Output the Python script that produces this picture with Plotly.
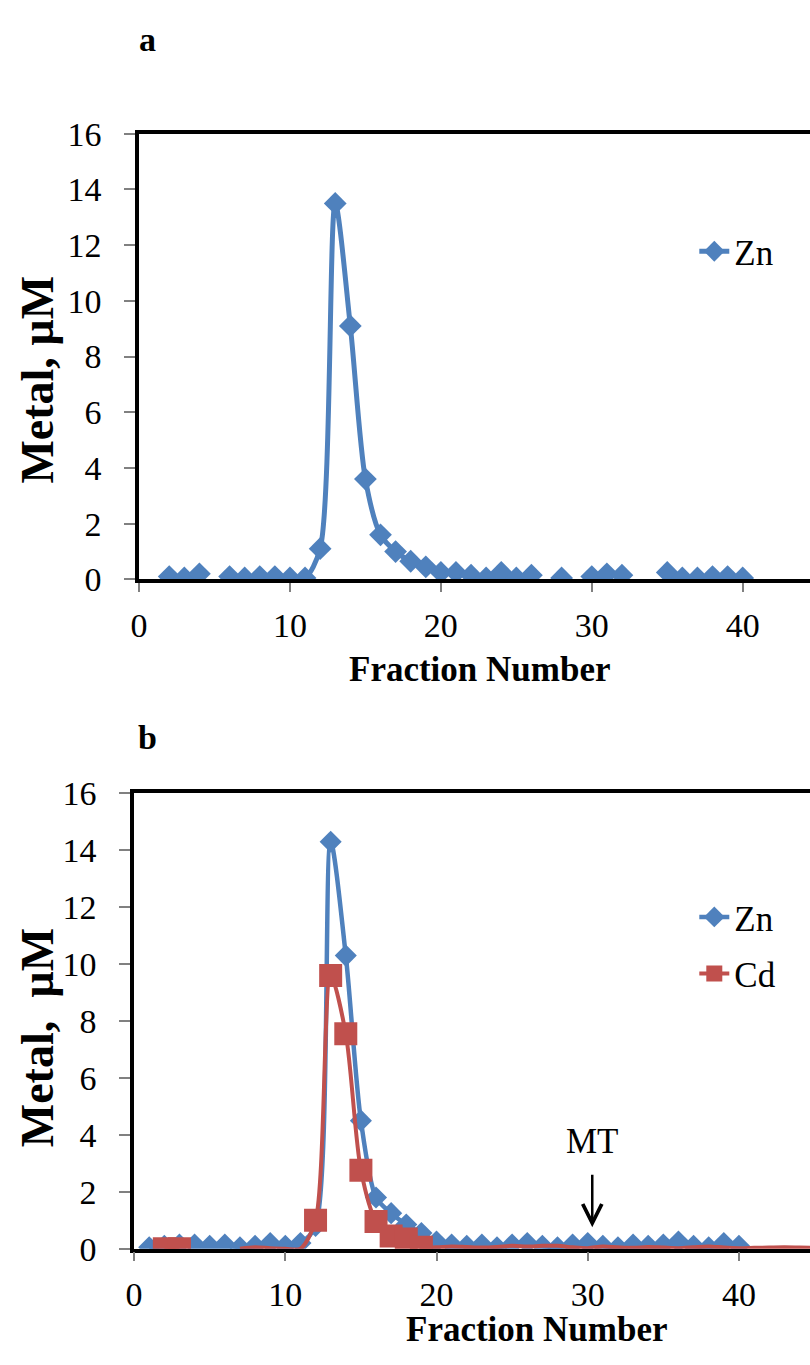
import plotly.graph_objects as go

# ---------------- data ----------------
fractions_a = list(range(1, 41))
zn_a = [None, 0.1, 0.05, 0.2, None, 0.1, 0.05, 0.1, 0.1, 0.05,
        0.05, 1.1, 13.5, 9.1, 3.6, 1.6, 1.0, 0.65, 0.45, 0.25,
        0.25, 0.15, 0.05, 0.25, 0.05, 0.15, None, 0.05, None, 0.1,
        0.2, 0.15, None, None, 0.25, 0.05, 0.05, 0.1, 0.1, 0.05]

fractions_b_zn = list(range(1, 41))
zn_b = [0.05, 0.1, 0.15, 0.15, 0.1, 0.15, 0.05, 0.1, 0.2, 0.1,
        0.2, 0.8, 14.3, 10.3, 4.5, 1.8, 1.25, 0.85, 0.55, 0.25,
        0.15, 0.1, 0.15, 0.05, 0.15, 0.2, 0.1, 0.05, 0.15, 0.2,
        0.1, 0.05, 0.15, 0.1, 0.15, 0.25, 0.1, 0.05, 0.2, 0.1]

fractions_b_cd = list(range(1, 46))
cd_b = [None, 0.0, 0.0, None, None, None, 0.0, 0.05, 0.02, 0.0,
        0.0, 1.0, 9.6, 7.55, 2.76, 0.96, 0.45, 0.34, 0.05, 0.05,
        0.08, 0.06, 0.04, 0.06, 0.1, 0.08, 0.1, 0.1, 0.05, 0.02,
        0.08, 0.05, 0.03, 0.06, 0.04, 0.02, 0.05, 0.08, 0.04, 0.02,
        0.03, 0.04, 0.05, 0.04, 0.03]
cd_marked = [2, 3, 12, 13, 14, 15, 16, 17, 18, 19]

y_ticks = [0, 2, 4, 6, 8, 10, 12, 14, 16]
x_ticks = [0, 10, 20, 30, 40]
mt_fraction = 30.3

# ---------------- style ----------------
W, H = 810, 1365
BLUE = "#4F81BD"
RED = "#C0504D"
SERIF = "Times New Roman, Liberation Serif, serif"
TICKFONT = dict(family=SERIF, size=34, color="black")


def px_x(p):
    return p / W


def px_y(p):
    return 1 - p / H


fig = go.Figure()

# panel a
fig.add_trace(go.Scatter(
    x=fractions_a, y=zn_a, mode="lines+markers", name="Zn",
    line=dict(color=BLUE, width=5, shape="spline", smoothing=0.8),
    marker=dict(symbol="diamond", size=17.5, color=BLUE),
    connectgaps=False, xaxis="x", yaxis="y", legend="legend"))

# panel b
fig.add_trace(go.Scatter(
    x=fractions_b_zn, y=zn_b, mode="lines+markers", name="Zn",
    line=dict(color=BLUE, width=4.5, shape="spline", smoothing=0.8),
    marker=dict(symbol="diamond", size=17, color=BLUE),
    xaxis="x2", yaxis="y2", legend="legend2", legendgroup="zn"))

fig.add_trace(go.Scatter(
    x=fractions_b_cd, y=cd_b, mode="lines", name="Cd", showlegend=False,
    line=dict(color=RED, width=4, shape="spline", smoothing=0.8),
    connectgaps=False, xaxis="x2", yaxis="y2", legendgroup="cd"))

cd_lookup = dict(zip(fractions_b_cd, cd_b))
fig.add_trace(go.Scatter(
    x=cd_marked, y=[cd_lookup[f] for f in cd_marked], mode="markers",
    name="Cd", showlegend=False,
    marker=dict(symbol="square", size=23, color=RED),
    xaxis="x2", yaxis="y2", legendgroup="cd"))

fig.add_trace(go.Scatter(
    x=[None], y=[None], mode="lines+markers", name="Cd",
    line=dict(color=RED, width=4),
    marker=dict(symbol="square", size=16, color=RED),
    xaxis="x2", yaxis="y2", legend="legend2", legendgroup="cd"))

axis_common = dict(showgrid=False, zeroline=False, showline=True,
                   linecolor="black", ticks="outside", tickcolor="#808080",
                   tickwidth=1.5, tickfont=TICKFONT)

fig.update_layout(
    width=W, height=H,
    margin=dict(l=0, r=0, t=0, b=0),
    paper_bgcolor="white", plot_bgcolor="white",
    showlegend=True,
    xaxis=dict(domain=[px_x(131.5), 1.0], range=[0, 44.46], anchor="y",
               tickvals=x_ticks, ticklen=9, linewidth=3.5, mirror=True,
               ticklabelstandoff=4, **axis_common),
    yaxis=dict(domain=[px_y(577), px_y(119)], range=[0, 16], anchor="x",
               tickvals=y_ticks, ticklen=11, linewidth=3.5,
               ticklabelstandoff=16, **axis_common),
    xaxis2=dict(domain=[px_x(126.5), 1.0], range=[0, 44.7], anchor="y2",
                tickvals=x_ticks, ticklen=9, linewidth=3.5, mirror=True,
                ticklabelstandoff=4, **axis_common),
    yaxis2=dict(domain=[px_y(1265), px_y(797)], range=[0, 16], anchor="x2",
                tickvals=y_ticks, ticklen=11, linewidth=3.5,
                ticklabelstandoff=16, **axis_common),
    legend=dict(x=px_x(693), y=px_y(240), xanchor="left", yanchor="middle",
                font=dict(family=SERIF, size=35, color="black"),
                bgcolor="rgba(0,0,0,0)", borderwidth=0),
    legend2=dict(x=px_x(693), y=px_y(953), xanchor="left", yanchor="middle",
                 font=dict(family=SERIF, size=35, color="black"),
                 bgcolor="rgba(0,0,0,0)", borderwidth=0,
                 traceorder="grouped", tracegroupgap=8),
)


def label(text, xp, yp, size=34, angle=0):
    return dict(text=text, x=px_x(xp), y=px_y(yp), xref="paper", yref="paper",
                xanchor="center", yanchor="middle", textangle=angle,
                showarrow=False, font=dict(family=SERIF, size=size, color="black"))


annotations = [
    label("<b>a</b>", 140, 22),
    label("<b>b</b>", 140, 740),
    label("<b>Metal, µM</b>", 29, 372, size=46, angle=-90),
    label("<b>Metal,  µM</b>", 29, 1048, size=46, angle=-90),
    label("<b>Fraction Number</b>", 476, 670, size=35),
    label("<b>Fraction Number</b>", 533, 1348, size=35),
    dict(text="MT", x=mt_fraction, y=3.75, xref="x2", yref="y2",
         xanchor="center", yanchor="middle",
         showarrow=False, font=dict(family=SERIF, size=35, color="black")),
    dict(text="", x=mt_fraction, y=0.75, xref="x2", yref="y2",
         ax=mt_fraction, ay=2.65, axref="x2", ayref="y2",
         showarrow=True, arrowhead=5, arrowsize=1.5, arrowwidth=2.5, arrowcolor="black"),
]
fig.update_layout(annotations=annotations)

fig.write_html("out.html")
